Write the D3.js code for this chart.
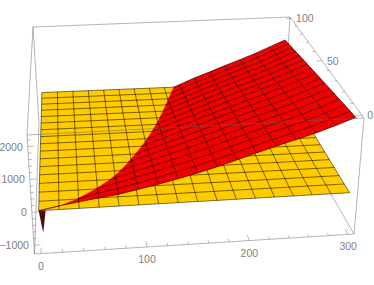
<!DOCTYPE html>
<html>
<head>
<meta charset="utf-8">
<script src="https://cdn.jsdelivr.net/npm/d3@7"></script>
<style>
  html, body { margin: 0; padding: 0; background: #fff; }
  text { font-family: "Liberation Sans", sans-serif; font-size: 10.5px; fill: #808080; }
</style>
</head>
<body>
<div id="svg_div"></div>
<script>
// Mesh positions of both surfaces
var xMesh = [0, 18.75, 37.5, 56.25, 75, 93.75, 112.5, 131.25, 150, 168.75, 187.5, 206.25, 225, 243.75, 262.5, 281.25, 300];
var yMesh = [0, 6.25, 12.5, 18.75, 25, 31.25, 37.5, 43.75, 50, 56.25, 62.5, 68.75, 75, 81.25, 87.5, 93.75, 100];

// Yellow sheet is flat
var yellowLevel = -60;

// Red sheet heights, one row per xMesh value, one column per yMesh value
var redZ = [
    [-60, -150, -300, -420, -520, -600, -660, -710, -750, -790, -820, -850, -880, -910, -940, -970, -1000],
    [50, -262, -574, -886, -1000, -1000, -1000, -1000, -1000, -1000, -1000, -1000, -1000, -1000, -1000, -1000, -1000],
    [140, -44, -228, -412, -596, -780, -964, -1000, -1000, -1000, -1000, -1000, -1000, -1000, -1000, -1000, -1000],
    [225, 91, -43, -177, -311, -445, -579, -713, -847, -981, -1000, -1000, -1000, -1000, -1000, -1000, -1000],
    [305, 199, 93, -13, -119, -225, -331, -437, -543, -649, -755, -861, -967, -1000, -1000, -1000, -1000],
    [420, 331, 242, 153, 64, -25, -114, -203, -292, -381, -470, -559, -648, -737, -826, -915, -1000],
    [545, 466, 387, 308, 229, 150, 71, -8, -87, -166, -245, -324, -403, -482, -561, -640, -719],
    [680, 609, 538, 467, 396, 325, 254, 183, 112, 41, -30, -101, -172, -243, -314, -385, -456],
    [825, 761, 697, 633, 569, 505, 441, 377, 313, 249, 185, 121, 57, -7, -71, -135, -199],
    [985, 925, 865, 805, 745, 685, 625, 565, 505, 445, 385, 325, 265, 205, 145, 85, 25],
    [1165, 1108, 1051, 994, 937, 880, 823, 766, 709, 652, 595, 538, 481, 424, 367, 310, 253],
    [1350, 1294, 1238, 1182, 1126, 1070, 1014, 958, 902, 846, 790, 734, 678, 622, 566, 510, 454],
    [1530, 1476, 1422, 1368, 1314, 1260, 1206, 1152, 1098, 1044, 990, 936, 882, 828, 774, 720, 666],
    [1700, 1648, 1596, 1544, 1492, 1440, 1388, 1336, 1284, 1232, 1180, 1128, 1076, 1024, 972, 920, 868],
    [1875, 1825, 1775, 1725, 1675, 1625, 1575, 1525, 1475, 1425, 1375, 1325, 1275, 1225, 1175, 1125, 1075],
    [2080, 2032, 1984, 1936, 1888, 1840, 1792, 1744, 1696, 1648, 1600, 1552, 1504, 1456, 1408, 1360, 1312],
    [2300, 2253, 2206, 2159, 2112, 2065, 2018, 1971, 1924, 1877, 1830, 1783, 1736, 1689, 1642, 1595, 1548]
];

// The sharp dip at the corner of the red sheet
var spikeX = [0, 6.5, 3];
var spikeY = [0, 0, 0];
var spikeZ = [-60, -60, -740];

// Tick values
var xTicks = d3.range(0, 301, 20);
var yTicks = d3.range(0, 101, 10);
var zTicks = d3.range(-1000, 2201, 200);
var xLabels = [0, 100, 200, 300];
var yLabels = [0, 50, 100];
var zLabels = [-1000, 0, 1000, 2000];

var svgWidth = 374, svgHeight = 285;
var svg = d3.select("#svg_div").append("svg").attr("width", svgWidth).attr("height", svgHeight);

// Box domain, with the padding the plot has around its data
var uScale = d3.scaleLinear().domain([-6, 306]).range([0, 1]);
var vScale = d3.scaleLinear().domain([-2, 102]).range([0, 1]);
var wScale = d3.scaleLinear().domain([-1270, 2350]).range([0, 1]);

// Box corners on screen, front-left, front-right, back-right, back-left
var topQuad = [[27, 135], [364, 118], [290, 17], [33, 27]];
var botQuad = [[34.5, 254], [354, 234], [284, 113], [39, 123]];

// Unit square to quad
function homography(q) {
    var sx = q[0][0] - q[1][0] + q[2][0] - q[3][0], sy = q[0][1] - q[1][1] + q[2][1] - q[3][1];
    var dx1 = q[1][0] - q[2][0], dx2 = q[3][0] - q[2][0], dy1 = q[1][1] - q[2][1], dy2 = q[3][1] - q[2][1];
    var det = dx1 * dy2 - dx2 * dy1;
    var g = (sx * dy2 - dx2 * sy) / det, h = (dx1 * sy - sx * dy1) / det;
    var a = q[1][0] - q[0][0] + g * q[1][0], b = q[3][0] - q[0][0] + h * q[3][0];
    var d = q[1][1] - q[0][1] + g * q[1][1], e = q[3][1] - q[0][1] + h * q[3][1];
    return function(u, v) {
        var n = g * u + h * v + 1;
        return [(a * u + b * v + q[0][0]) / n, (d * u + e * v + q[0][1]) / n];
    };
}
var topMap = homography(topQuad), botMap = homography(botQuad);

// Data point to screen point
function project(p) {
    var u = uScale(p[0]), v = vScale(p[1]), w = wScale(p[2]);
    var t = topMap(u, v), b = botMap(u, v);
    return [b[0] + (t[0] - b[0]) * w, b[1] + (t[1] - b[1]) * w];
}

var line3d = d3.line().x(function(d) { return project(d)[0]; }).y(function(d) { return project(d)[1]; });

function crossing(a, b) {
    var t = (yellowLevel - a[2]) / (b[2] - a[2]);
    return [a[0] + (b[0] - a[0]) * t, a[1] + (b[1] - a[1]) * t, yellowLevel];
}

// Keep the part of a polygon above the yellow sheet
function clipPolygon(pts) {
    var out = [];
    pts.forEach(function(p, i) {
        var q = pts[(i + 1) % pts.length];
        if (p[2] >= yellowLevel) out.push(p);
        if ((p[2] >= yellowLevel) != (q[2] >= yellowLevel)) out.push(crossing(p, q));
    });
    return out;
}

// Same for one mesh segment
function clipSegment(a, b) {
    if (a[2] < yellowLevel && b[2] < yellowLevel) return null;
    if (a[2] >= yellowLevel && b[2] >= yellowLevel) return [a, b];
    return a[2] >= yellowLevel ? [a, crossing(a, b)] : [crossing(a, b), b];
}

var boxColor = "#666";
function edge(g, a, b) {
    g.append("path").attr("d", d3.line()([a, b])).attr("stroke", boxColor).attr("stroke-opacity", 0.55)
        .attr("stroke-width", 0.9).attr("fill", "none");
}

// Back edges of the box
var backG = svg.append("g");
edge(backG, topQuad[3], topQuad[0]);
edge(backG, topQuad[3], topQuad[2]);
edge(backG, topQuad[2], topQuad[1]);
edge(backG, topQuad[3], botQuad[3]);
edge(backG, topQuad[2], botQuad[2]);
edge(backG, botQuad[0], botQuad[3]);
edge(backG, botQuad[1], botQuad[2]);

// Dip hanging under the corner
svg.append("path")
    .attr("d", line3d(spikeX.map(function(x, i) { return [x, spikeY[i], spikeZ[i]]; })) + "Z")
    .attr("fill", "#4f0a10");

// Yellow sheet
var meshStroke = "#000";
var meshOpacity = 0.65;
var yellowG = svg.append("g");
var xEnd = xMesh[xMesh.length - 1], yEnd = yMesh[yMesh.length - 1];
yellowG.append("path")
    .attr("d", line3d([[0, 0, yellowLevel], [xEnd, 0, yellowLevel], [xEnd, yEnd, yellowLevel], [0, yEnd, yellowLevel]]) + "Z")
    .attr("fill", "#ffcc00");
xMesh.forEach(function(x) {
    yellowG.append("path").attr("d", line3d([[x, 0, yellowLevel], [x, yEnd, yellowLevel]]))
        .attr("stroke", meshStroke).attr("stroke-opacity", meshOpacity).attr("stroke-width", 0.8).attr("fill", "none");
});
yMesh.forEach(function(y) {
    yellowG.append("path").attr("d", line3d([[0, y, yellowLevel], [xEnd, y, yellowLevel]]))
        .attr("stroke", meshStroke).attr("stroke-opacity", meshOpacity).attr("stroke-width", 0.8).attr("fill", "none");
});

// Red sheet
var redG = svg.append("g");
var redPoint = function(i, j) { return [xMesh[i], yMesh[j], redZ[i][j]]; };
for (var i = 0; i < xMesh.length - 1; i++) {
    for (var j = 0; j < yMesh.length - 1; j++) {
        var cell = clipPolygon([redPoint(i, j), redPoint(i + 1, j), redPoint(i + 1, j + 1), redPoint(i, j + 1)]);
        if (cell.length) {
            redG.append("path").attr("d", line3d(cell) + "Z")
                .attr("fill", "#f00000").attr("stroke", "#f00000").attr("stroke-width", 0.3);
        }
    }
}
function redSegment(a, b) {
    var seg = clipSegment(a, b);
    if (seg) {
        redG.append("path").attr("d", line3d(seg))
            .attr("stroke", meshStroke).attr("stroke-opacity", meshOpacity).attr("stroke-width", 0.8).attr("fill", "none");
    }
}
xMesh.forEach(function(x, i) {
    yMesh.forEach(function(y, j) {
        if (j < yMesh.length - 1) redSegment(redPoint(i, j), redPoint(i, j + 1));
        if (i < xMesh.length - 1) redSegment(redPoint(i, j), redPoint(i + 1, j));
    });
});

// Front edges of the box
var frontG = svg.append("g");
edge(frontG, topQuad[0], topQuad[1]);
edge(frontG, topQuad[0], botQuad[0]);
edge(frontG, topQuad[1], botQuad[1]);
edge(frontG, botQuad[0], botQuad[1]);

// Ticks lie in the box faces
function tick(a, b) {
    frontG.append("path").attr("d", line3d([a, b])).attr("stroke", boxColor).attr("stroke-opacity", 0.55)
        .attr("stroke-width", 0.8).attr("fill", "none");
}
var xLow = uScale.domain()[0], xHigh = uScale.domain()[1];
var yLow = vScale.domain()[0];
var zLow = wScale.domain()[0], zHigh = wScale.domain()[1];
xTicks.forEach(function(x) {
    tick([x, yLow, zLow], [x, yLow + (xLabels.includes(x) ? 3.5 : 1.8), zLow]);
});
yTicks.forEach(function(y) {
    tick([xHigh, y, zHigh], [xHigh - (yLabels.includes(y) ? 6 : 3), y, zHigh]);
});
zTicks.forEach(function(z) {
    tick([xLow, yLow, z], [xLow + (zLabels.includes(z) ? 6 : 3), yLow, z]);
});

// Tick labels
xLabels.forEach(function(x) {
    var p = project([x, yLow, zLow]);
    svg.append("text").attr("x", p[0]).attr("y", p[1] + 16).attr("text-anchor", "middle").text(x);
});
yLabels.forEach(function(y) {
    var p = project([xHigh, y, zHigh]);
    svg.append("text").attr("x", p[0] + 5).attr("y", p[1] + 4).text(y);
});
zLabels.forEach(function(z) {
    var p = project([xLow, yLow, z]);
    svg.append("text").attr("x", p[0] - 5).attr("y", p[1] + 4).attr("text-anchor", "end").text(z < 0 ? "\u2212" + (-z) : z);
});
</script>
</body>
</html>
